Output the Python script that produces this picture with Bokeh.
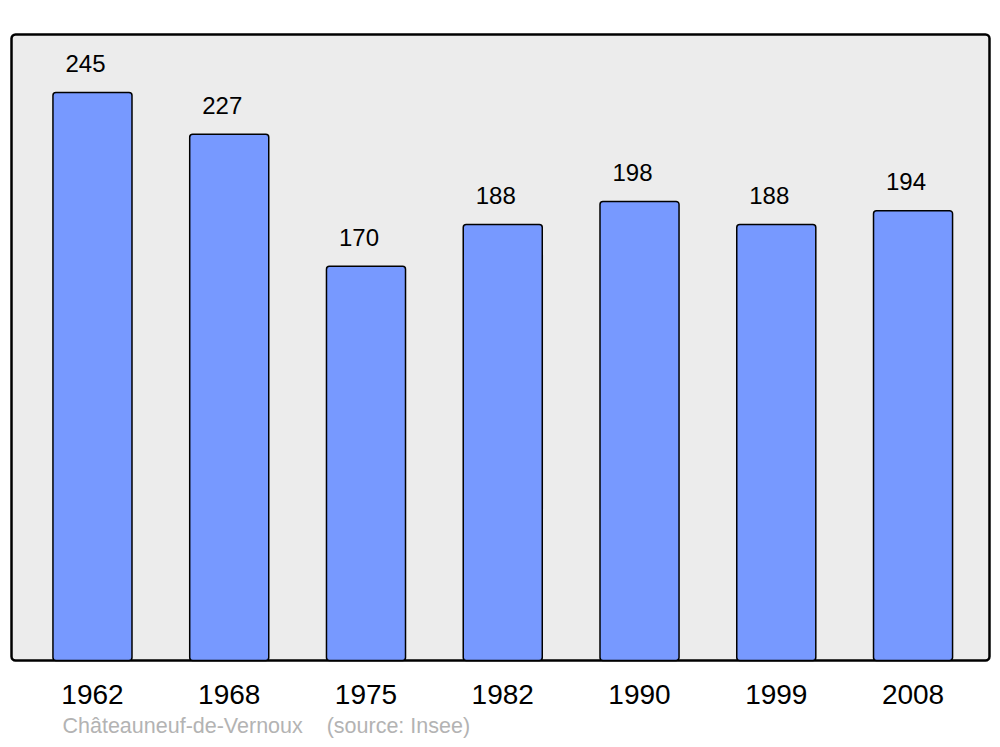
from bokeh.plotting import figure
from bokeh.models import ColumnDataSource, FixedTicker, Range1d, BoxAnnotation, Title
from bokeh.core.properties import value
from bokeh.embed import file_html
from bokeh.resources import INLINE

years = ["1962", "1968", "1975", "1982", "1990", "1999", "2008"]
population = [245, 227, 170, 188, 198, 188, 194]
commune = "Châteauneuf-de-Vernoux"
source_note = "(source: Insee)"

idx = list(range(len(years)))
src = ColumnDataSource(dict(x=idx, top=population, label=[str(v) for v in population]))

FONT = "Liberation Sans"

# panel extents (data units); a small margin is kept so the panel border is not clipped
X0, X1 = -0.592, len(years) - 1 + 0.559
Y0, Y1 = 0, 270
XM, YM = 0.022, 1.294

p = figure(width=996, height=745, output_backend="svg", toolbar_location=None,
           x_range=Range1d(X0 - XM, X1 + XM), y_range=Range1d(Y0 - YM, Y1 + YM),
           min_border_left=8, min_border_right=4, min_border_top=31, min_border_bottom=82)
p.background_fill_color = "white"
p.border_fill_color = "white"
p.outline_line_color = None
p.grid.visible = False
p.yaxis.visible = False

frame = BoxAnnotation(left=X0, right=X1, bottom=Y0, top=Y1,
                      fill_color="#ececec", fill_alpha=1, line_color="black", line_alpha=1,
                      line_width=2.5, border_radius=4, level="underlay")
p.add_layout(frame)

p.vbar(x="x", top="top", bottom=0, width=0.578, source=src, fill_color="#7799ff",
       line_color="black", line_width=1.5, border_radius=3)

p.text(x="x", y="top", text="label", source=src, x_offset=-7, y_offset=-29,
       text_align="center", text_baseline="alphabetic", text_font=value(FONT),
       text_font_size="24px", text_color="black")

ax = p.xaxis[0]
ax.ticker = FixedTicker(ticks=idx)
ax.major_label_overrides = {i: y for i, y in zip(idx, years)}
ax.axis_line_color = None
ax.major_tick_line_color = None
ax.minor_tick_line_color = None
ax.major_label_text_font = FONT
ax.major_label_text_font_size = "28px"
ax.major_label_text_color = "black"
ax.major_label_standoff = 15

t = Title(text=commune + "\u00a0\u00a0\u00a0\u00a0" + source_note, align="left",
          text_font=FONT, text_font_size="21.5px", text_font_style="normal",
          text_color="#b3b3b3", offset=54)
p.add_layout(t, "below")

open("out.html", "w").write(file_html(p, INLINE))
